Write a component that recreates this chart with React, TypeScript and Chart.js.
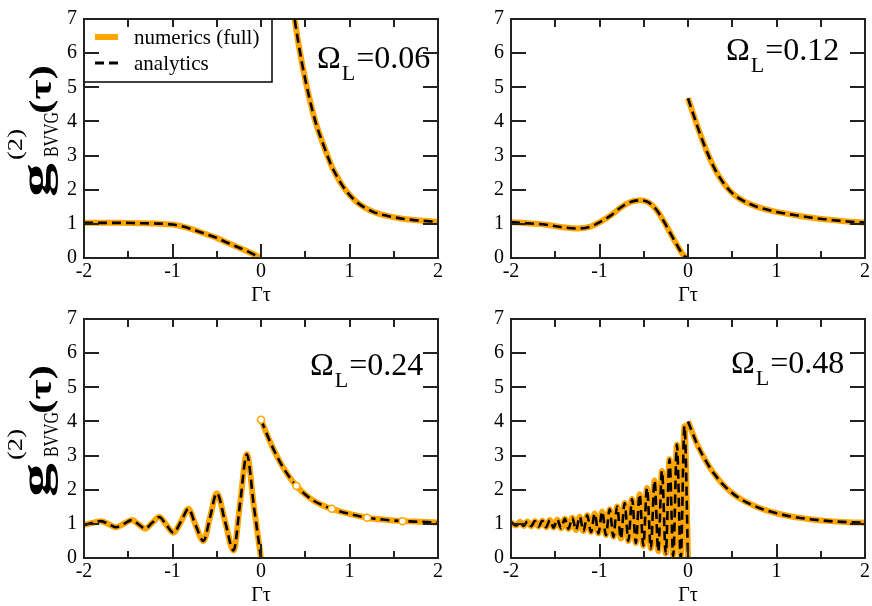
import React, { useEffect, useRef } from 'react';
import { Chart, registerables } from 'chart.js';

Chart.register(...registerables);

const FONT = '"Liberation Serif", "Times New Roman", Times, serif';
Chart.defaults.font.family = FONT;
Chart.defaults.color = '#000';

// ---------- axis ticks ----------
const xTickValues = [-2, -1.5, -1, -0.5, 0, 0.5, 1, 1.5, 2];
const yTickValues = [1, 2, 3, 4, 5, 6];

// ---------- Omega_L = 0.06 ----------
const tlLeftX = [-2, -1.8, -1.6, -1.4, -1.2, -1.0, -0.9, -0.8, -0.7, -0.6, -0.5, -0.4, -0.3, -0.2, -0.1, 0];
const tlLeftY = [1.03, 1.03, 1.03, 1.02, 1.01, 0.98, 0.93, 0.86, 0.77, 0.68, 0.59, 0.47, 0.36, 0.25, 0.13, 0];
const tlRightX = [0.3, 0.38, 0.46, 0.55, 0.62, 0.7, 0.75, 0.8, 0.86, 0.92, 1.0, 1.1, 1.26, 1.4, 1.6, 1.8, 2.0];
const tlRightY = [8.6, 7.0, 5.75, 4.65, 3.95, 3.35, 3.0, 2.68, 2.38, 2.12, 1.85, 1.6, 1.36, 1.25, 1.15, 1.095, 1.06];

// ---------- Omega_L = 0.12 ----------
const trLeftX = [-2, -1.78, -1.62, -1.44, -1.25, -1.1, -0.99, -0.87, -0.76, -0.65, -0.54, -0.44, -0.35, -0.27, -0.2, -0.12, -0.05, 0];
const trLeftY = [1.05, 1.01, 0.98, 0.91, 0.865, 0.92, 1.06, 1.25, 1.48, 1.64, 1.69, 1.62, 1.39, 1.06, 0.73, 0.36, 0.08, 0];
const trRightX = [0, 0.1, 0.2, 0.3, 0.4, 0.5, 0.6, 0.7, 0.8, 1.0, 1.2, 1.4, 1.6, 1.8, 2.0];
const trRightY = [4.68, 3.9, 3.2, 2.62, 2.2, 1.9, 1.71, 1.58, 1.48, 1.35, 1.26, 1.18, 1.12, 1.07, 1.04];

// ---------- Omega_L = 0.24 ----------
const blLeftX = [-2, -1.9, -1.81, -1.72, -1.64, -1.55, -1.46, -1.38, -1.31, -1.23, -1.15, -1.07, -0.99, -0.9, -0.82, -0.74, -0.65, -0.575, -0.5, -0.405, -0.31, -0.235, -0.16, -0.08, 0];
const blLeftY = [0.97, 1.03, 1.08, 0.99, 0.9, 1.0, 1.11, 0.98, 0.86, 1.03, 1.2, 0.97, 0.74, 1.09, 1.44, 0.97, 0.5, 1.2, 1.9, 1.06, 0.22, 1.63, 3.04, 1.5, 0];
const blRightX = [0, 0.1, 0.2, 0.3, 0.4, 0.5, 0.6, 0.7, 0.8, 1.0, 1.2, 1.4, 1.6, 1.8, 2.0];
const blRightY = [4.05, 3.42, 2.88, 2.45, 2.11, 1.86, 1.67, 1.54, 1.44, 1.29, 1.18, 1.12, 1.08, 1.06, 1.04];
const blMarkX = [0, 0.4, 0.8, 1.2, 1.6];
const blMarkY = [4.05, 2.11, 1.44, 1.18, 1.08];

// ---------- Omega_L = 0.48 ----------
const brLeftX = [-2.0, -1.941, -1.899, -1.857, -1.815, -1.772, -1.73, -1.688, -1.646, -1.603, -1.561, -1.519, -1.477, -1.434, -1.392, -1.35, -1.308, -1.265, -1.223, -1.181, -1.139, -1.096, -1.054, -1.012, -0.97, -0.927, -0.885, -0.843, -0.801, -0.758, -0.716, -0.674, -0.632, -0.589, -0.547, -0.505, -0.463, -0.42, -0.378, -0.336, -0.294, -0.251, -0.209, -0.167, -0.125, -0.082, -0.04, 0];
const brLeftY = [1.05, 0.95, 1.06, 0.94, 1.07, 0.93, 1.08, 0.92, 1.09, 0.9, 1.11, 0.89, 1.13, 0.87, 1.15, 0.85, 1.18, 0.82, 1.21, 0.79, 1.25, 0.76, 1.3, 0.72, 1.36, 0.67, 1.43, 0.62, 1.51, 0.57, 1.61, 0.5, 1.73, 0.44, 1.87, 0.36, 2.05, 0.28, 2.27, 0.2, 2.55, 0.13, 2.89, 0.06, 3.32, 0.01, 3.86, 0];
const brRightX = [0, 0.1, 0.2, 0.3, 0.4, 0.5, 0.6, 0.8, 1.0, 1.2, 1.4, 1.6, 1.8, 2.0];
const brRightY = [4.0, 3.35, 2.85, 2.45, 2.14, 1.9, 1.72, 1.47, 1.31, 1.2, 1.13, 1.08, 1.05, 1.03];

const omegaValues = ['0.06', '0.12', '0.24', '0.48'];

const ORANGE = '#FFA500';

type XY = { x: number; y: number | null };

function zip(xs: number[], ys: number[]): XY[] {
  return xs.map((x, i) => ({ x, y: ys[i] }));
}
function branches(lx: number[], ly: number[], rx: number[], ry: number[]): XY[] {
  return [...zip(lx, ly), { x: 0, y: null }, ...zip(rx, ry)];
}

interface PanelCfg {
  left: number;
  top: number;
  w: number;
  h: number;
  padL: number;
  padT: number;
  isLeft: boolean;
  legend: boolean;
  omega: string;
  omegaX: number;
  omegaY: number;
  analytics: XY[];
  numerics: XY[];
  markers?: XY[];
}

const panels: PanelCfg[] = [
  {
    left: 0, top: 0, w: 445, h: 306, padL: 44, padT: 7, isLeft: true, legend: true,
    omega: omegaValues[0], omegaX: 317, omegaY: 68,
    analytics: branches(tlLeftX, tlLeftY, tlRightX, tlRightY),
    numerics: branches(tlLeftX, tlLeftY, tlRightX, tlRightY),
  },
  {
    left: 445, top: 0, w: 427, h: 306, padL: 26, padT: 7, isLeft: false, legend: false,
    omega: omegaValues[1], omegaX: 281, omegaY: 60,
    analytics: branches(trLeftX, trLeftY, trRightX, trRightY),
    numerics: branches(trLeftX, trLeftY, trRightX, trRightY),
  },
  {
    left: 0, top: 300, w: 445, h: 306, padL: 44, padT: 8, isLeft: true, legend: false,
    omega: omegaValues[2], omegaX: 310, omegaY: 75,
    analytics: branches(blLeftX, blLeftY, blRightX, blRightY),
    numerics: branches(blLeftX, blLeftY, blRightX, blRightY),
    markers: zip(blMarkX, blMarkY),
  },
  {
    left: 445, top: 300, w: 427, h: 306, padL: 26, padT: 8, isLeft: false, legend: false,
    omega: omegaValues[3], omegaX: 286, omegaY: 73,
    analytics: branches(brLeftX, brLeftY, brRightX, brRightY),
    numerics: branches(brLeftX, brLeftY, brRightX, brRightY),
  },
];

// draws a text piece stretched along the reading direction to a target width
function piece(ctx: CanvasRenderingContext2D, text: string, font: string, u0: number, v: number, width: number) {
  ctx.font = font;
  const w = ctx.measureText(text).width;
  ctx.save();
  ctx.translate(u0, v);
  ctx.scale(width / w, 1);
  ctx.fillText(text, 0, 0);
  ctx.restore();
}

function drawYTitle(ctx: CanvasRenderingContext2D) {
  ctx.save();
  ctx.translate(7, 197);
  ctx.rotate(-Math.PI / 2);
  ctx.fillStyle = '#000';
  ctx.textAlign = 'left';
  ctx.textBaseline = 'alphabetic';
  piece(ctx, 'g', `bold 40px ${FONT}`, 0, 42, 34);
  piece(ctx, '(2)', `20px ${FONT}`, 37, 15, 31);
  piece(ctx, 'BVVG', `21px ${FONT}`, 40, 51, 45);
  piece(ctx, '(\u03C4)', `bold 31px ${FONT}`, 83, 44, 49);
  ctx.restore();
}

function Panel({ cfg }: { cfg: PanelCfg }) {
  const ref = useRef<HTMLCanvasElement>(null);
  useEffect(() => {
    const canvas = ref.current;
    if (!canvas) return;
    const deco = {
      id: 'deco',
      afterDatasetsDraw(chart: any) {
        const { ctx, chartArea: a, scales } = chart;
        const xs = scales.x;
        const ys = scales.y;
        ctx.save();
        // legend
        if (cfg.legend) {
          ctx.fillStyle = '#fff';
          ctx.fillRect(a.left, a.top, 188, 63);
          ctx.strokeStyle = '#000';
          ctx.lineWidth = 1.5;
          ctx.strokeRect(a.left, a.top, 188, 63);
          ctx.beginPath();
          ctx.strokeStyle = ORANGE;
          ctx.lineWidth = 6;
          ctx.moveTo(a.left + 11, a.top + 18);
          ctx.lineTo(a.left + 34, a.top + 18);
          ctx.stroke();
          ctx.beginPath();
          ctx.strokeStyle = '#000';
          ctx.lineWidth = 3;
          ctx.setLineDash([9, 5]);
          ctx.moveTo(a.left + 11, a.top + 44);
          ctx.lineTo(a.left + 36, a.top + 44);
          ctx.stroke();
          ctx.setLineDash([]);
          ctx.fillStyle = '#000';
          ctx.font = `21px ${FONT}`;
          ctx.textAlign = 'left';
          ctx.textBaseline = 'alphabetic';
          ctx.fillText('numerics (full)', a.left + 50, a.top + 25);
          ctx.fillText('analytics', a.left + 50, a.top + 51);
        }
        // omega label
        ctx.fillStyle = '#000';
        ctx.textAlign = 'left';
        ctx.textBaseline = 'alphabetic';
        ctx.font = `32px ${FONT}`;
        ctx.fillText('\u03A9', cfg.omegaX, cfg.omegaY);
        let cx = cfg.omegaX + ctx.measureText('\u03A9').width + 1;
        ctx.font = `22px ${FONT}`;
        ctx.fillText('L', cx, cfg.omegaY + 12);
        cx += ctx.measureText('L').width + 1;
        ctx.font = `32px ${FONT}`;
        ctx.fillText('=' + cfg.omega, cx, cfg.omegaY);
        // frame
        ctx.strokeStyle = '#222';
        ctx.lineWidth = 2;
        ctx.strokeRect(a.left, a.top, a.right - a.left, a.bottom - a.top);
        // ticks
        ctx.beginPath();
        for (const v of xTickValues) {
          const px = Math.round(xs.getPixelForValue(v));
          const major = Number.isInteger(v);
          ctx.moveTo(px, a.bottom);
          ctx.lineTo(px, a.bottom - (major ? 14 : 7));
          ctx.moveTo(px, a.top);
          ctx.lineTo(px, a.top + 8);
        }
        for (const v of yTickValues) {
          const py = Math.round(ys.getPixelForValue(v));
          ctx.moveTo(a.left, py);
          ctx.lineTo(a.left + 15, py);
          ctx.moveTo(a.right, py);
          ctx.lineTo(a.right - 15, py);
        }
        ctx.stroke();
        ctx.restore();
      },
      afterDraw(chart: any) {
        if (cfg.isLeft) drawYTitle(chart.ctx);
      },
    };

    const datasets: any[] = [];
    if (cfg.markers) {
      datasets.push({
        label: 'numerics markers',
        data: cfg.markers,
        showLine: false,
        pointRadius: 3.5,
        pointBackgroundColor: '#fff',
        pointBorderColor: ORANGE,
        pointBorderWidth: 1.5,
        borderWidth: 0,
      });
    }
    datasets.push({
      label: 'analytics',
      data: cfg.analytics,
      borderColor: '#000',
      borderWidth: 2.6,
      borderDash: [9, 5],
      pointRadius: 0,
      cubicInterpolationMode: 'monotone',
      fill: false,
      spanGaps: false,
      clip: 0,
    });
    datasets.push({
      label: 'numerics (full)',
      data: cfg.numerics,
      borderColor: ORANGE,
      borderWidth: 6,
      borderJoinStyle: 'round',
      pointRadius: 0,
      cubicInterpolationMode: 'monotone',
      fill: false,
      spanGaps: false,
      clip: 0,
    });

    const tickFont = { family: FONT, size: 20 };
    const chart = new Chart(canvas, {
      type: 'line',
      data: { datasets },
      options: {
        animation: false,
        responsive: false,
        devicePixelRatio: 1,
        events: [],
        layout: {
          autoPadding: false,
          padding: { left: cfg.padL, right: 6, top: cfg.padT, bottom: 0 },
        } as any,
        plugins: { legend: { display: false }, tooltip: { enabled: false } },
        scales: {
          x: {
            type: 'linear',
            min: -2,
            max: 2,
            grid: { display: false, drawTicks: false },
            border: { display: false },
            ticks: { stepSize: 1, font: tickFont, color: '#000', padding: 2, maxRotation: 0 },
            title: { display: true, text: '\u0393\u03C4', font: { family: FONT, size: 20 }, color: '#000', padding: { top: 0, bottom: -2 } },
            afterFit: (s: any) => { s.height = 48; },
          },
          y: {
            type: 'linear',
            min: 0,
            max: 7,
            grid: { display: false, drawTicks: false },
            border: { display: false },
            ticks: { stepSize: 1, font: tickFont, color: '#000', padding: 7 },
            afterFit: (s: any) => { s.width = 40; },
          },
        },
      } as any,
      plugins: [deco],
    });
    return () => chart.destroy();
  }, [cfg]);
  return (
    <canvas
      ref={ref}
      width={cfg.w}
      height={cfg.h}
      style={{ position: 'absolute', left: cfg.left, top: cfg.top, width: cfg.w, height: cfg.h }}
    />
  );
}

export default function App() {
  return (
    <div style={{ position: 'absolute', left: 0, top: 0, width: 872, height: 606, background: '#fff', overflow: 'hidden' }}>
      {panels.map((p, i) => (
        <Panel key={i} cfg={p} />
      ))}
    </div>
  );
}
